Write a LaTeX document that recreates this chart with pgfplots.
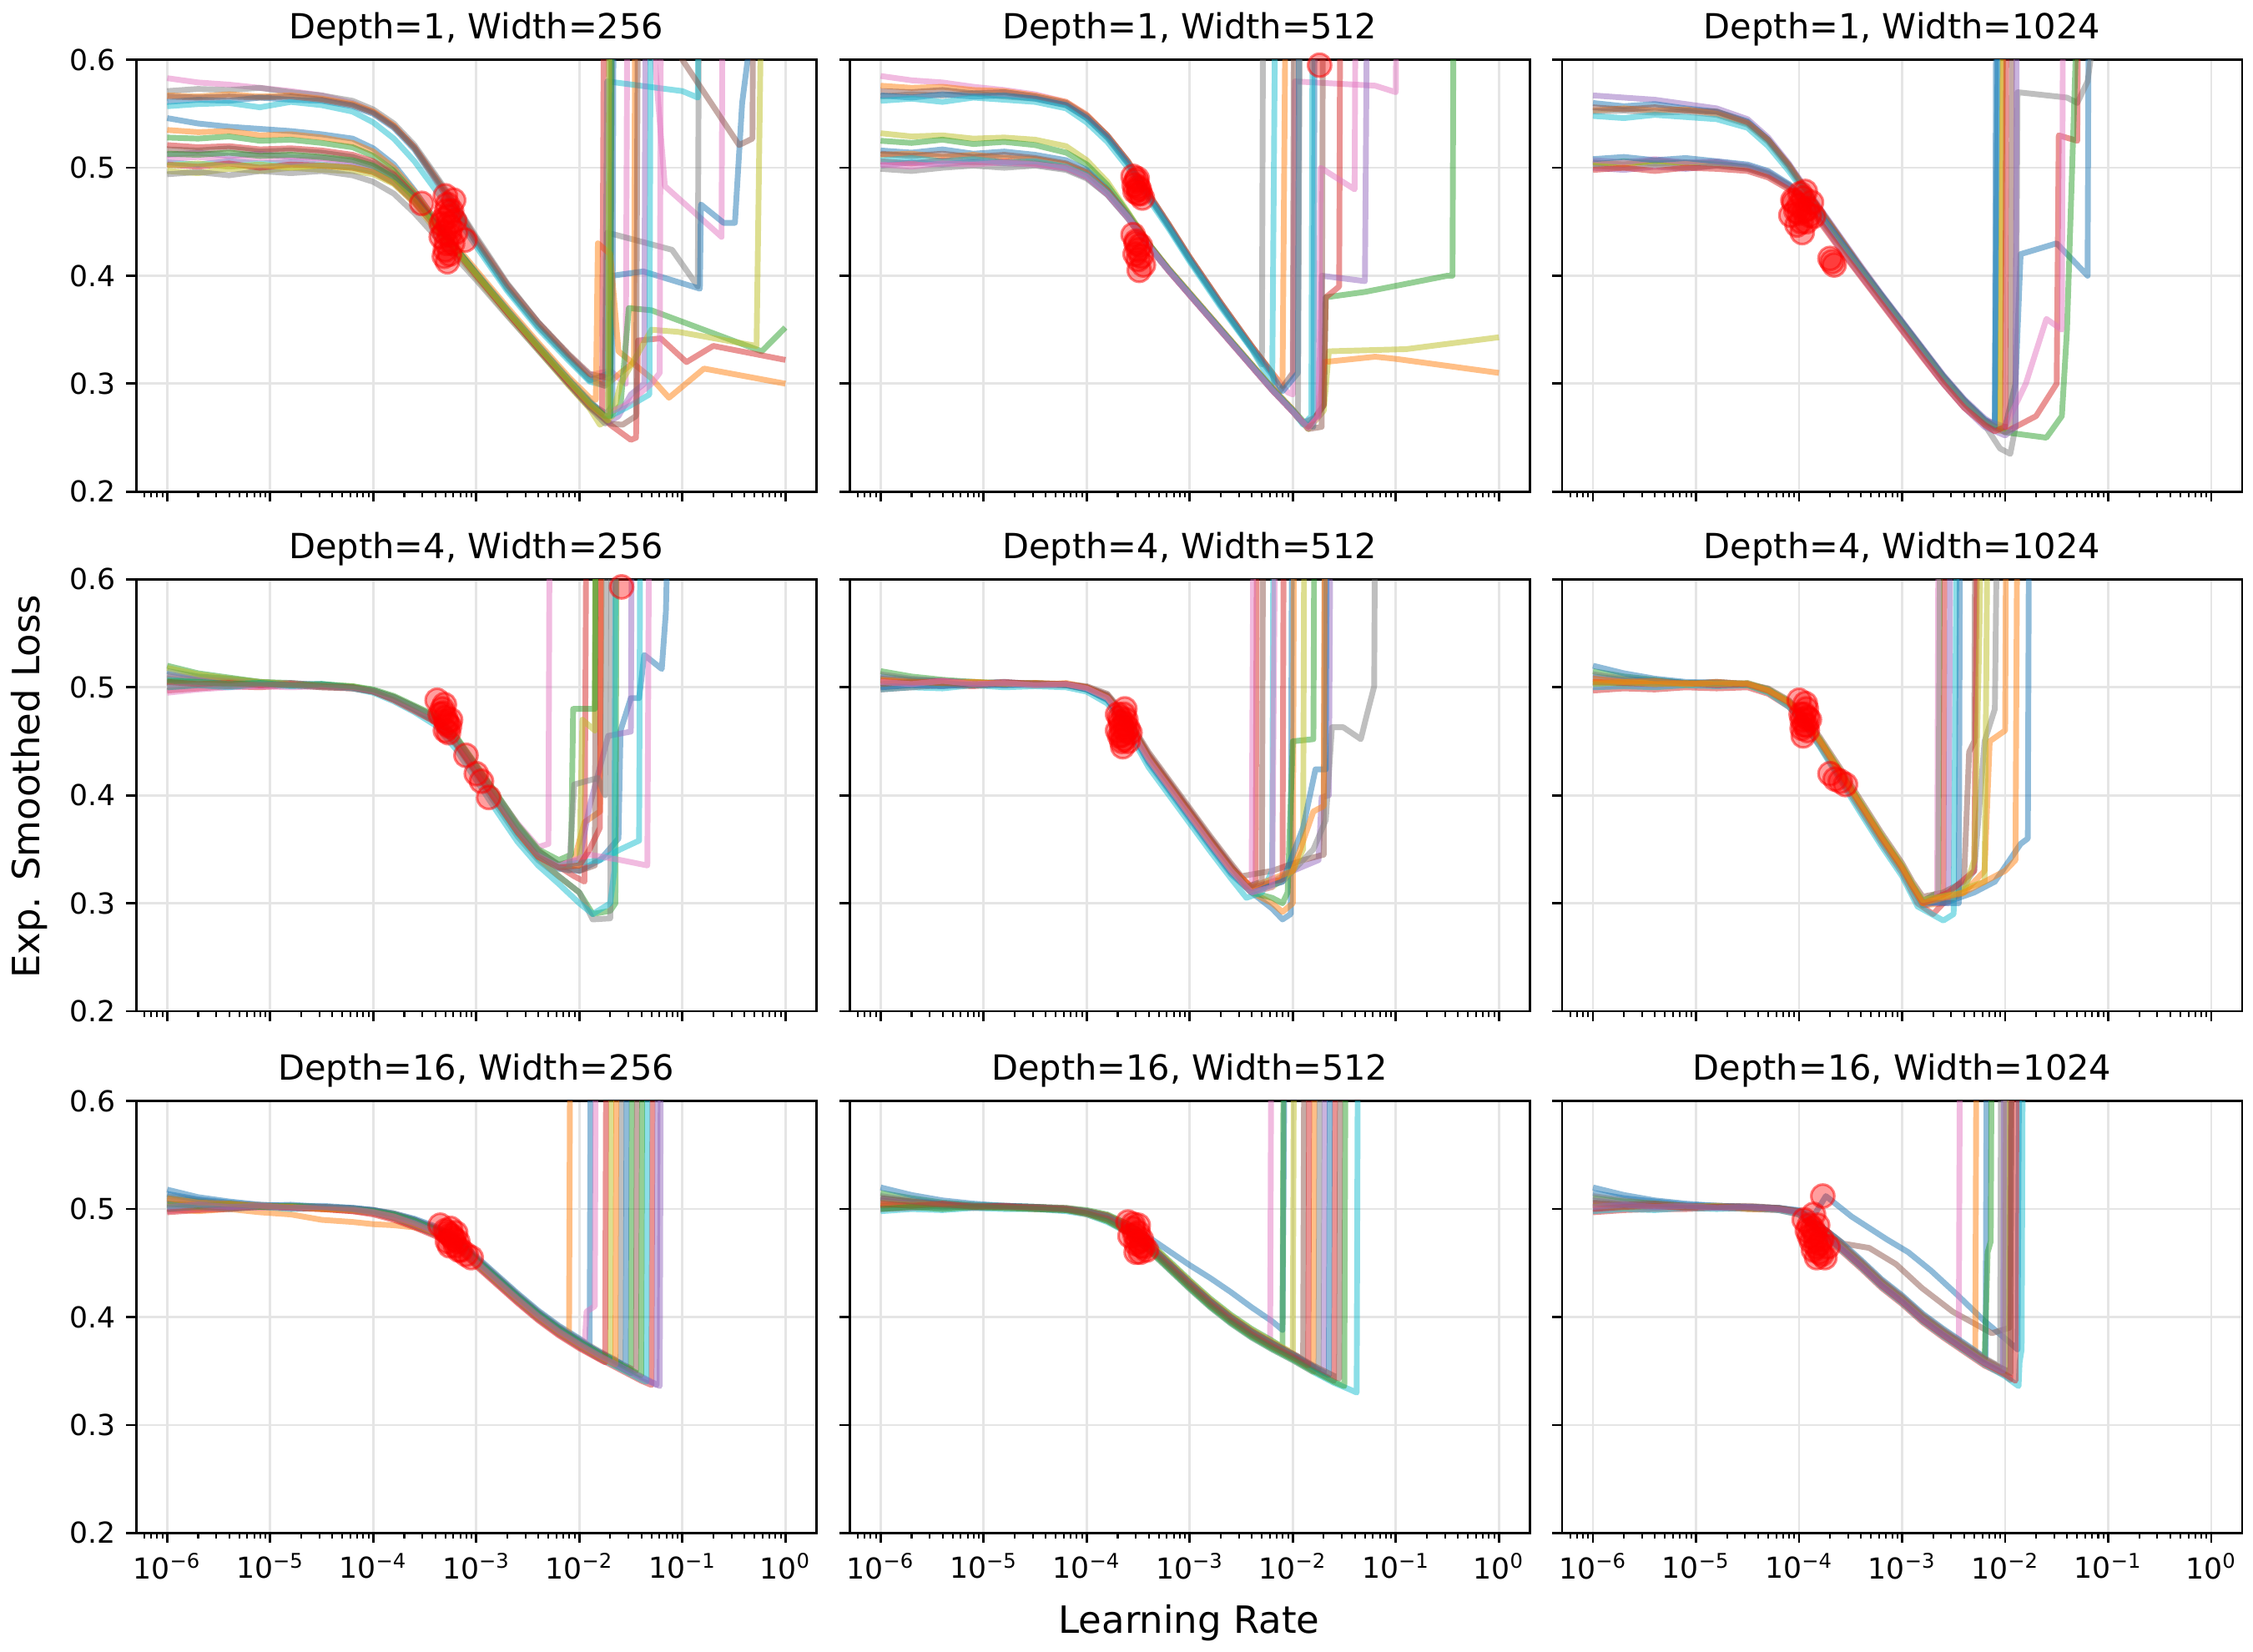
\documentclass[border=0pt]{standalone}
\usepackage{fontspec}
\setmainfont{DejaVu Sans}
\usepackage{pgfplots}
\pgfplotsset{compat=1.18}
\definecolor{c0}{HTML}{1F77B4}
\definecolor{c1}{HTML}{FF7F0E}
\definecolor{c2}{HTML}{2CA02C}
\definecolor{c3}{HTML}{D62728}
\definecolor{c4}{HTML}{9467BD}
\definecolor{c5}{HTML}{8C564B}
\definecolor{c6}{HTML}{E377C2}
\definecolor{c7}{HTML}{7F7F7F}
\definecolor{c8}{HTML}{BCBD22}
\definecolor{c9}{HTML}{17BECF}
\pgfplotsset{
 every axis title/.style={at={(0.5,1)}, anchor=base, yshift=7.2pt, font=\fontsize{12}{14}\selectfont},
 panel/.style={
  width=3.26in, height=2.0704in, scale only axis, anchor=south west,
  xmin=-6.3, xmax=0.3, ymin=0.2, ymax=0.6,
  xtick={-6,-5,-4,-3,-2,-1,0},
  minor xtick={-6.222,-6.155,-6.097,-6.046,-5.699,-5.523,-5.398,-5.301,-5.222,-5.155,-5.097,-5.046,-4.699,-4.523,-4.398,-4.301,-4.222,-4.155,-4.097,-4.046,-3.699,-3.523,-3.398,-3.301,-3.222,-3.155,-3.097,-3.046,-2.699,-2.523,-2.398,-2.301,-2.222,-2.155,-2.097,-2.046,-1.699,-1.523,-1.398,-1.301,-1.222,-1.155,-1.097,-1.046,-0.699,-0.523,-0.398,-0.301,-0.222,-0.155,-0.097,-0.046},
  ytick={0.2,0.3,0.4,0.5,0.6},
  xticklabels={}, yticklabels={},
  tick pos=left, tick align=outside,
  major tick length=3.5pt, minor tick length=2pt,
  major tick style={line width=0.8pt, black},
  minor tick style={line width=0.6pt, black},
  grid=major, major grid style={line width=0.8pt, black!10},
  axis line style={line width=0.8pt},
  tick label style={font=\fontsize{10}{12}\selectfont},
  every axis plot/.append style={line width=2pt, opacity=0.5, line join=round, no marks},
 },
 xl/.style={xticklabels={10\textsuperscript{−6},10\textsuperscript{−5},10\textsuperscript{−4},10\textsuperscript{−3},10\textsuperscript{−2},10\textsuperscript{−1},10\textsuperscript{0}}},
 yl/.style={yticklabels={0.2,0.3,0.4,0.5,0.6}},
 rm/.style={only marks, mark=*, mark size=4pt, opacity=1, red, mark options={draw=red, fill=red, fill opacity=0.38, draw opacity=0.5, line width=0.9pt}},
}
\begin{document}
\begin{tikzpicture}
\path[use as bounding box] (0,0) rectangle (10.8in,7.92in);
% ---------------- Row 1, Col 1 ----------------
\begin{axis}[panel, yl, at={(0.6532in,5.5628in)}, title={Depth=1, Width=256}]
\addplot[c6] coordinates {(-6,.583)(-5.7,.579)(-5.4,.577)(-5.1,.574)(-4.8,.571)(-4.5,.567)(-4.2,.560)(-4.0,.552)(-3.8,.539)(-3.6,.519)(-3.4,.491)(-3.2,.464)(-3.0,.433)(-2.7,.391)(-2.4,.356)(-2.1,.326)(-1.9,.308)(-1.7,.312)(-1.55,.30)(-1.53,.75)(-1.3,.64)(-1.17,.483)(-0.62,.436)(-0.6,.9)};
\addplot[c7] coordinates {(-6,.571)(-5.7,.573)(-5.4,.572)(-5.1,.574)(-4.8,.570)(-4.5,.567)(-4.2,.562)(-4.0,.554)(-3.8,.541)(-3.6,.521)(-3.4,.494)(-3.2,.466)(-3.0,.436)(-2.7,.393)(-2.4,.357)(-2.1,.326)(-1.9,.307)(-1.75,.300)(-1.73,.44)(-1.1,.424)(-0.85,.39)(-0.83,.9)};
\addplot[c1] coordinates {(-6,.567)(-5.7,.566)(-5.4,.568)(-5.1,.566)(-4.8,.567)(-4.5,.564)(-4.2,.559)(-4.0,.552)(-3.8,.539)(-3.6,.518)(-3.4,.490)(-3.2,.462)(-3.0,.431)(-2.7,.389)(-2.4,.354)(-2.1,.324)(-1.9,.304)(-1.75,.298)(-1.6,.31)(-1.47,.32)(-1.45,.9)};
\addplot[c0] coordinates {(-6,.561)(-5.7,.563)(-5.4,.562)(-5.1,.565)(-4.8,.563)(-4.5,.562)(-4.2,.557)(-4.0,.550)(-3.8,.537)(-3.6,.517)(-3.4,.489)(-3.2,.461)(-3.0,.430)(-2.7,.388)(-2.4,.353)(-2.1,.323)(-1.9,.303)(-1.7,.31)(-1.68,.40)(-1.38,.404)(-0.83,.388)(-0.82,.466)(-0.6,.449)(-0.49,.449)(-0.42,.56)(-0.3,.65)};
\addplot[c9] coordinates {(-6,.557)(-5.7,.559)(-5.4,.560)(-5.1,.556)(-4.8,.561)(-4.5,.558)(-4.2,.552)(-4.0,.542)(-3.8,.527)(-3.6,.506)(-3.4,.480)(-3.2,.455)(-3.0,.427)(-2.7,.386)(-2.4,.351)(-2.1,.321)(-1.9,.302)(-1.75,.298)(-1.73,.58)(-1.0,.571)(-0.85,.565)(-0.83,.9)};
\addplot[c5] coordinates {(-6,.566)(-5.7,.565)(-5.4,.566)(-5.1,.565)(-4.8,.566)(-4.5,.563)(-4.2,.558)(-4.0,.551)(-3.8,.538)(-3.6,.519)(-3.4,.492)(-3.2,.465)(-3.0,.434)(-2.7,.392)(-2.4,.357)(-2.1,.327)(-1.9,.309)(-1.7,.305)(-1.68,.7)(-1.2,.66)(-1.0,.6)(-0.45,.521)(-0.32,.527)(-0.3,.9)};
\addplot[c0] coordinates {(-6,.546)(-5.7,.541)(-5.4,.538)(-5.1,.536)(-4.8,.534)(-4.5,.531)(-4.2,.527)(-4.0,.518)(-3.8,.503)(-3.6,.479)(-3.4,.452)(-3.2,.426)(-3.0,.403)(-2.7,.369)(-2.4,.336)(-2.1,.304)(-1.9,.284)(-1.75,.27)(-1.68,.28)(-1.66,.9)};
\addplot[c1] coordinates {(-6,.535)(-5.7,.533)(-5.4,.534)(-5.1,.530)(-4.8,.531)(-4.5,.528)(-4.2,.523)(-4.0,.515)(-3.8,.500)(-3.6,.478)(-3.4,.452)(-3.2,.428)(-3.0,.405)(-2.7,.371)(-2.4,.338)(-2.1,.306)(-1.9,.287)(-1.84,.285)(-1.82,.43)(-1.7,.42)(-1.62,.33)(-1.3,.305)(-1.13,.287)(-0.79,.314)(0,.30)};
\addplot[c2] coordinates {(-6,.528)(-5.7,.527)(-5.4,.529)(-5.1,.525)(-4.8,.526)(-4.5,.523)(-4.2,.519)(-4.0,.511)(-3.8,.497)(-3.6,.476)(-3.4,.450)(-3.2,.426)(-3.0,.402)(-2.7,.367)(-2.4,.333)(-2.1,.301)(-1.9,.280)(-1.75,.267)(-1.6,.28)(-1.52,.37)(-1.3,.368)(-0.23,.33)(0,.352)};
\addplot[c3] coordinates {(-6,.521)(-5.7,.519)(-5.4,.52)(-5.1,.517)(-4.8,.518)(-4.5,.516)(-4.2,.512)(-4.0,.506)(-3.8,.494)(-3.6,.474)(-3.4,.449)(-3.2,.425)(-3.0,.401)(-2.7,.366)(-2.4,.332)(-2.1,.299)(-1.9,.278)(-1.7,.262)(-1.5,.248)(-1.45,.25)(-1.43,.34)(-1.21,.342)(-0.96,.32)(-0.7,.335)(0,.322)};
\addplot[c4] coordinates {(-6,.512)(-5.7,.514)(-5.4,.511)(-5.1,.513)(-4.8,.510)(-4.5,.509)(-4.2,.506)(-4.0,.501)(-3.8,.491)(-3.6,.472)(-3.4,.447)(-3.2,.424)(-3.0,.40)(-2.7,.366)(-2.4,.333)(-2.1,.301)(-1.9,.281)(-1.72,.264)(-1.62,.27)(-1.5,.29)(-1.37,.30)(-1.35,.9)};
\addplot[c8] coordinates {(-6,.497)(-5.7,.495)(-5.4,.499)(-5.1,.497)(-4.8,.50)(-4.5,.498)(-4.2,.497)(-4.0,.494)(-3.8,.485)(-3.6,.467)(-3.4,.443)(-3.2,.421)(-3.0,.398)(-2.7,.364)(-2.4,.331)(-2.1,.298)(-1.9,.277)(-1.8,.262)(-1.68,.27)(-1.6,.30)(-1.3,.35)(-1.04,.348)(-0.28,.335)(-0.2,.9)};
\addplot[c7] coordinates {(-6,.494)(-5.7,.496)(-5.4,.493)(-5.1,.497)(-4.8,.495)(-4.5,.497)(-4.2,.493)(-4.0,.487)(-3.8,.476)(-3.6,.458)(-3.4,.437)(-3.2,.417)(-3.0,.396)(-2.7,.363)(-2.4,.331)(-2.1,.299)(-1.9,.278)(-1.75,.263)(-1.72,.27)(-1.70,.9)};
\addplot[c9] coordinates {(-6,.505)(-5.7,.503)(-5.4,.506)(-5.1,.504)(-4.8,.505)(-4.5,.503)(-4.2,.501)(-4.0,.497)(-3.8,.487)(-3.6,.469)(-3.4,.446)(-3.2,.424)(-3.0,.401)(-2.7,.367)(-2.4,.334)(-2.1,.302)(-1.9,.282)(-1.7,.27)(-1.5,.28)(-1.32,.29)(-1.3,.9)};
\addplot[c6] coordinates {(-6,.508)(-5.7,.510)(-5.4,.507)(-5.1,.509)(-4.8,.507)(-4.5,.508)(-4.2,.504)(-4.0,.499)(-3.8,.489)(-3.6,.471)(-3.4,.447)(-3.2,.425)(-3.0,.402)(-2.7,.368)(-2.4,.335)(-2.1,.303)(-1.9,.283)(-1.75,.272)(-1.55,.28)(-1.3,.30)(-1.22,.31)(-1.2,.9)};
\addplot[c5] coordinates {(-6,.517)(-5.7,.516)(-5.4,.518)(-5.1,.515)(-4.8,.516)(-4.5,.514)(-4.2,.510)(-4.0,.504)(-3.8,.493)(-3.6,.473)(-3.4,.448)(-3.2,.425)(-3.0,.401)(-2.7,.366)(-2.4,.333)(-2.1,.30)(-1.9,.279)(-1.7,.263)(-1.58,.262)(-1.45,.27)(-1.42,.9)};
\addplot[c3] coordinates {(-6,.503)(-5.7,.501)(-5.4,.504)(-5.1,.50)(-4.8,.503)(-4.5,.502)(-4.2,.50)(-4.0,.496)(-3.8,.486)(-3.6,.468)(-3.4,.445)(-3.2,.423)(-3.0,.40)(-2.7,.366)(-2.4,.333)(-2.1,.301)(-1.9,.281)(-1.78,.272)(-1.75,.9)};
\addplot[c2] coordinates {(-6,.513)(-5.7,.512)(-5.4,.514)(-5.1,.511)(-4.8,.512)(-4.5,.51)(-4.2,.507)(-4.0,.502)(-3.8,.491)(-3.6,.472)(-3.4,.448)(-3.2,.425)(-3.0,.402)(-2.7,.368)(-2.4,.335)(-2.1,.303)(-1.9,.283)(-1.75,.27)(-1.7,.27)(-1.68,.9)};
\addplot[c8] coordinates {(-6,.502)(-5.7,.504)(-5.4,.501)(-5.1,.503)(-4.8,.50)(-4.5,.502)(-4.2,.50)(-4.0,.496)(-3.8,.486)(-3.6,.469)(-3.4,.446)(-3.2,.424)(-3.0,.401)(-2.7,.367)(-2.4,.334)(-2.1,.302)(-1.9,.281)(-1.72,.266)(-1.70,.9)};
\addplot[rm] coordinates {(-3.53,.467)(-3.30,.474)(-3.28,.466)(-3.21,.451)(-3.34,.448)(-3.34,.436)(-3.30,.424)(-3.11,.433)(-3.28,.413)(-3.23,.43)(-3.25,.445)(-3.31,.44)(-3.27,.455)(-3.22,.47)(-3.26,.42)(-3.29,.46)(-3.32,.452)(-3.26,.438)(-3.29,.43)(-3.24,.46)(-3.31,.418)(-3.27,.448)(-3.2,.44)};
\end{axis}
% ---------------- Row 1, Col 2 ----------------
\begin{axis}[panel, at={(4.0732in,5.5628in)}, title={Depth=1, Width=512}]
\addplot[c6] coordinates {(-6,.585)(-5.7,.581)(-5.4,.579)(-5.1,.575)(-4.8,.572)(-4.5,.568)(-4.2,.561)(-4.0,.549)(-3.8,.530)(-3.6,.506)(-3.4,.476)(-3.2,.447)(-3.0,.417)(-2.7,.375)(-2.4,.335)(-2.2,.31)(-2.05,.292)(-2.0,.29)(-1.98,.58)(-1.2,.576)(-1.0,.57)(-0.98,.9)};
\addplot[c1] coordinates {(-6,.576)(-5.7,.574)(-5.4,.575)(-5.1,.572)(-4.8,.571)(-4.5,.567)(-4.2,.561)(-4.0,.549)(-3.8,.53)(-3.6,.506)(-3.4,.476)(-3.2,.447)(-3.0,.417)(-2.7,.375)(-2.4,.335)(-2.2,.31)(-2.1,.298)(-2.05,.9)};
\addplot[c7] coordinates {(-6,.566)(-5.7,.568)(-5.4,.567)(-5.1,.569)(-4.8,.566)(-4.5,.564)(-4.2,.558)(-4.0,.546)(-3.8,.528)(-3.6,.504)(-3.4,.474)(-3.2,.445)(-3.0,.415)(-2.7,.373)(-2.4,.333)(-2.3,.318)(-2.28,.9)};
\addplot[c5] coordinates {(-6,.571)(-5.7,.57)(-5.4,.572)(-5.1,.569)(-4.8,.57)(-4.5,.566)(-4.2,.56)(-4.0,.548)(-3.8,.53)(-3.6,.506)(-3.4,.476)(-3.2,.447)(-3.0,.417)(-2.7,.375)(-2.4,.335)(-2.2,.31)(-2.15,.29)(-2.0,.31)(-1.98,.9)};
\addplot[c0] coordinates {(-6,.567)(-5.7,.565)(-5.4,.568)(-5.1,.566)(-4.8,.567)(-4.5,.564)(-4.2,.558)(-4.0,.546)(-3.8,.528)(-3.6,.504)(-3.4,.474)(-3.2,.445)(-3.0,.415)(-2.7,.373)(-2.4,.333)(-2.2,.308)(-2.1,.293)(-1.95,.31)(-1.93,.9)};
\addplot[c9] coordinates {(-6,.562)(-5.7,.564)(-5.4,.561)(-5.1,.565)(-4.8,.563)(-4.5,.561)(-4.2,.555)(-4.0,.542)(-3.8,.524)(-3.6,.50)(-3.4,.471)(-3.2,.443)(-3.0,.413)(-2.7,.371)(-2.4,.332)(-2.2,.30)(-2.15,.9)};
\addplot[c8] coordinates {(-6,.532)(-5.7,.529)(-5.4,.530)(-5.1,.527)(-4.8,.528)(-4.5,.526)(-4.2,.52)(-4.0,.507)(-3.8,.487)(-3.6,.459)(-3.4,.43)(-3.2,.405)(-3.0,.383)(-2.7,.35)(-2.4,.317)(-2.2,.295)(-2.0,.275)(-1.85,.258)(-1.7,.275)(-1.65,.33)(-0.9,.332)(0,.343)};
\addplot[c2] coordinates {(-6,.525)(-5.7,.523)(-5.4,.526)(-5.1,.522)(-4.8,.524)(-4.5,.521)(-4.2,.514)(-4.0,.503)(-3.8,.484)(-3.6,.458)(-3.4,.43)(-3.2,.406)(-3.0,.384)(-2.7,.351)(-2.4,.318)(-2.2,.296)(-2.0,.276)(-1.85,.26)(-1.7,.28)(-1.68,.38)(-1.3,.385)(-0.5,.40)(-0.45,.40)(-0.43,.9)};
\addplot[c0] coordinates {(-6,.516)(-5.7,.514)(-5.4,.517)(-5.1,.513)(-4.8,.515)(-4.5,.512)(-4.2,.507)(-4.0,.498)(-3.8,.48)(-3.6,.456)(-3.4,.429)(-3.2,.405)(-3.0,.383)(-2.7,.35)(-2.4,.317)(-2.2,.295)(-2.0,.275)(-1.9,.264)(-1.8,.26)(-1.78,.9)};
\addplot[c1] coordinates {(-6,.512)(-5.7,.513)(-5.4,.51)(-5.1,.512)(-4.8,.509)(-4.5,.508)(-4.2,.503)(-4.0,.495)(-3.8,.479)(-3.6,.456)(-3.4,.429)(-3.2,.406)(-3.0,.384)(-2.7,.351)(-2.4,.318)(-2.2,.296)(-2.0,.276)(-1.9,.263)(-1.75,.27)(-1.7,.32)(-1.2,.325)(-1.0,.323)(0,.31)};
\addplot[c3] coordinates {(-6,.506)(-5.7,.504)(-5.4,.507)(-5.1,.505)(-4.8,.506)(-4.5,.504)(-4.2,.50)(-4.0,.492)(-3.8,.476)(-3.6,.454)(-3.4,.428)(-3.2,.404)(-3.0,.382)(-2.7,.349)(-2.4,.316)(-2.2,.294)(-2.0,.274)(-1.95,.268)(-1.85,.26)(-1.7,.28)(-1.68,.38)(-1.55,.39)(-1.53,.9)};
\addplot[c4] coordinates {(-6,.502)(-5.7,.505)(-5.4,.503)(-5.1,.506)(-4.8,.504)(-4.5,.503)(-4.2,.499)(-4.0,.491)(-3.8,.475)(-3.6,.453)(-3.4,.427)(-3.2,.404)(-3.0,.382)(-2.7,.349)(-2.4,.316)(-2.2,.294)(-2.0,.274)(-1.9,.264)(-1.75,.27)(-1.72,.40)(-1.3,.395)(-1.26,.9)};
\addplot[c7] coordinates {(-6,.499)(-5.7,.497)(-5.4,.50)(-5.1,.502)(-4.8,.50)(-4.5,.502)(-4.2,.498)(-4.0,.49)(-3.8,.475)(-3.6,.453)(-3.4,.427)(-3.2,.404)(-3.0,.382)(-2.7,.349)(-2.4,.316)(-2.2,.294)(-2.0,.274)(-1.95,.27)(-1.92,.9)};
\addplot[c5] coordinates {(-6,.513)(-5.7,.511)(-5.4,.513)(-5.1,.51)(-4.8,.512)(-4.5,.509)(-4.2,.504)(-4.0,.496)(-3.8,.479)(-3.6,.456)(-3.4,.429)(-3.2,.405)(-3.0,.383)(-2.7,.35)(-2.4,.317)(-2.2,.295)(-2.0,.275)(-1.85,.258)(-1.72,.26)(-1.7,.9)};
\addplot[c9] coordinates {(-6,.507)(-5.7,.509)(-5.4,.506)(-5.1,.508)(-4.8,.505)(-4.5,.506)(-4.2,.501)(-4.0,.493)(-3.8,.477)(-3.6,.455)(-3.4,.428)(-3.2,.405)(-3.0,.383)(-2.7,.35)(-2.4,.317)(-2.2,.295)(-2.0,.275)(-1.9,.262)(-1.82,.27)(-1.8,.9)};
\addplot[c6] coordinates {(-6,.503)(-5.7,.501)(-5.4,.504)(-5.1,.503)(-4.8,.505)(-4.5,.503)(-4.2,.50)(-4.0,.492)(-3.8,.476)(-3.6,.454)(-3.4,.428)(-3.2,.404)(-3.0,.382)(-2.7,.349)(-2.4,.316)(-2.2,.294)(-2.0,.274)(-1.85,.259)(-1.75,.27)(-1.73,.50)(-1.4,.48)(-1.38,.9)};
\addplot[rm] coordinates {(-3.55,.492)(-3.52,.488)(-3.5,.482)(-3.48,.476)(-3.46,.472)(-3.53,.478)(-3.55,.438)(-3.52,.43)(-3.5,.424)(-3.47,.418)(-3.45,.41)(-3.49,.405)(-1.74,.595)(-3.51,.49)(-3.49,.48)(-3.54,.484)(-3.5,.476)(-3.52,.432)(-3.5,.415)(-3.48,.428)(-3.53,.42)};
\end{axis}
% ---------------- Row 1, Col 3 ----------------
\begin{axis}[panel, at={(7.488in,5.5628in)}, title={Depth=1, Width=1024}]
\addplot[c4] coordinates {(-6,.567)(-5.7,.565)(-5.4,.563)(-5.1,.559)(-4.8,.555)(-4.5,.545)(-4.3,.528)(-4.1,.504)(-4.0,.49)(-3.8,.463)(-3.6,.436)(-3.4,.409)(-3.2,.383)(-3.0,.358)(-2.8,.333)(-2.6,.308)(-2.4,.286)(-2.2,.268)(-2.1,.262)(-2.05,.9)};
\addplot[c0] coordinates {(-6,.56)(-5.7,.557)(-5.4,.559)(-5.1,.555)(-4.8,.552)(-4.5,.543)(-4.3,.526)(-4.1,.502)(-4.0,.488)(-3.8,.461)(-3.6,.434)(-3.4,.407)(-3.2,.381)(-3.0,.356)(-2.8,.331)(-2.6,.306)(-2.4,.284)(-2.2,.266)(-2.0,.26)(-1.9,.30)(-1.85,.42)(-1.5,.43)(-1.2,.40)(-1.18,.9)};
\addplot[c1] coordinates {(-6,.553)(-5.7,.555)(-5.4,.553)(-5.1,.554)(-4.8,.55)(-4.5,.541)(-4.3,.525)(-4.1,.502)(-4.0,.488)(-3.8,.461)(-3.6,.434)(-3.4,.407)(-3.2,.381)(-3.0,.356)(-2.8,.331)(-2.6,.306)(-2.4,.284)(-2.2,.266)(-2.05,.258)(-2.0,.9)};
\addplot[c7] coordinates {(-6,.552)(-5.7,.553)(-5.4,.551)(-5.1,.552)(-4.8,.549)(-4.5,.54)(-4.3,.524)(-4.1,.50)(-4.0,.486)(-3.8,.46)(-3.6,.433)(-3.4,.406)(-3.2,.38)(-3.0,.355)(-2.8,.33)(-2.6,.305)(-2.4,.282)(-2.2,.262)(-2.05,.24)(-1.95,.235)(-1.9,.26)(-1.88,.57)(-1.4,.565)(-1.3,.56)(-1.2,.58)(-1.1,.65)};
\addplot[c9] coordinates {(-6,.548)(-5.7,.546)(-5.4,.549)(-5.1,.547)(-4.8,.545)(-4.5,.537)(-4.3,.52)(-4.1,.497)(-4.0,.484)(-3.8,.458)(-3.6,.431)(-3.4,.405)(-3.2,.379)(-3.0,.354)(-2.8,.329)(-2.6,.304)(-2.4,.282)(-2.2,.264)(-2.1,.258)(-2.05,.9)};
\addplot[c5] coordinates {(-6,.556)(-5.7,.554)(-5.4,.556)(-5.1,.553)(-4.8,.552)(-4.5,.542)(-4.3,.526)(-4.1,.503)(-4.0,.489)(-3.8,.462)(-3.6,.435)(-3.4,.408)(-3.2,.382)(-3.0,.357)(-2.8,.332)(-2.6,.307)(-2.4,.285)(-2.2,.266)(-2.1,.26)(-1.95,.26)(-1.92,.9)};
\addplot[c3] coordinates {(-6,.505)(-5.7,.503)(-5.4,.507)(-5.1,.504)(-4.8,.505)(-4.5,.50)(-4.3,.494)(-4.1,.483)(-4.0,.475)(-3.8,.455)(-3.6,.43)(-3.4,.405)(-3.2,.38)(-3.0,.355)(-2.8,.33)(-2.6,.305)(-2.4,.283)(-2.2,.265)(-2.0,.255)(-1.7,.27)(-1.5,.30)(-1.48,.53)(-1.3,.525)(-1.28,.9)};
\addplot[c2] coordinates {(-6,.503)(-5.7,.506)(-5.4,.504)(-5.1,.505)(-4.8,.503)(-4.5,.501)(-4.3,.495)(-4.1,.484)(-4.0,.476)(-3.8,.456)(-3.6,.431)(-3.4,.406)(-3.2,.381)(-3.0,.356)(-2.8,.331)(-2.6,.306)(-2.4,.284)(-2.2,.266)(-2.0,.255)(-1.6,.25)(-1.45,.27)(-1.4,.35)(-1.35,.50)(-1.3,.65)};
\addplot[c6] coordinates {(-6,.507)(-5.7,.505)(-5.4,.508)(-5.1,.505)(-4.8,.506)(-4.5,.502)(-4.3,.496)(-4.1,.484)(-4.0,.476)(-3.8,.456)(-3.6,.431)(-3.4,.406)(-3.2,.381)(-3.0,.356)(-2.8,.331)(-2.6,.306)(-2.4,.284)(-2.2,.266)(-2.0,.26)(-1.8,.30)(-1.6,.36)(-1.45,.35)(-1.43,.9)};
\addplot[c8] coordinates {(-6,.502)(-5.7,.50)(-5.4,.503)(-5.1,.50)(-4.8,.502)(-4.5,.499)(-4.3,.493)(-4.1,.482)(-4.0,.474)(-3.8,.454)(-3.6,.429)(-3.4,.404)(-3.2,.379)(-3.0,.354)(-2.8,.329)(-2.6,.304)(-2.4,.282)(-2.2,.264)(-2.05,.256)(-2.0,.9)};
\addplot[c0] coordinates {(-6,.508)(-5.7,.51)(-5.4,.507)(-5.1,.509)(-4.8,.506)(-4.5,.503)(-4.3,.497)(-4.1,.485)(-4.0,.477)(-3.8,.457)(-3.6,.432)(-3.4,.407)(-3.2,.382)(-3.0,.357)(-2.8,.332)(-2.6,.307)(-2.4,.285)(-2.2,.267)(-2.1,.26)(-2.08,.9)};
\addplot[c4] coordinates {(-6,.50)(-5.7,.498)(-5.4,.501)(-5.1,.499)(-4.8,.502)(-4.5,.499)(-4.3,.493)(-4.1,.482)(-4.0,.474)(-3.8,.452)(-3.6,.425)(-3.4,.40)(-3.2,.375)(-3.0,.35)(-2.8,.325)(-2.6,.30)(-2.4,.278)(-2.2,.26)(-2.0,.252)(-1.9,.26)(-1.88,.9)};
\addplot[c3] coordinates {(-6,.498)(-5.7,.50)(-5.4,.497)(-5.1,.50)(-4.8,.499)(-4.5,.497)(-4.3,.491)(-4.1,.48)(-4.0,.472)(-3.8,.45)(-3.6,.424)(-3.4,.399)(-3.2,.374)(-3.0,.349)(-2.8,.324)(-2.6,.30)(-2.4,.278)(-2.2,.262)(-2.1,.256)(-2.0,.26)(-1.98,.9)};
\addplot[rm] coordinates {(-4.05,.468)(-4.0,.458)(-3.96,.472)(-3.92,.462)(-4.02,.447)(-3.93,.45)(-3.88,.468)(-3.97,.44)(-4.08,.456)(-3.86,.455)(-3.99,.476)(-3.7,.416)(-3.66,.41)(-4.0,.465)(-3.95,.46)(-4.03,.46)(-3.9,.456)(-3.98,.45)(-4.06,.47)(-3.94,.478)(-3.68,.413)};
\end{axis}
% ---------------- Row 2, Col 1 ----------------
\begin{axis}[panel, yl, at={(0.6532in,3.072in)}, title={Depth=4, Width=256}]
\addplot[c0] coordinates {(-6,.515)(-5.7,.51)(-5.4,.508)(-5.1,.505)(-4.8,.503)(-4.5,.503)(-4.2,.50)(-4.0,.497)(-3.8,.49)(-3.6,.481)(-3.4,.471)(-3.2,.451)(-3.0,.424)(-2.8,.397)(-2.6,.37)(-2.4,.347)(-2.2,.332)(-2.0,.33)(-1.8,.34)(-1.62,.36)(-1.6,.46)(-1.5,.49)(-1.42,.49)(-1.37,.53)(-1.2,.517)(-1.16,.57)(-1.14,.65)};
\addplot[c1] coordinates {(-6,.508)(-5.7,.506)(-5.4,.505)(-5.1,.503)(-4.8,.504)(-4.5,.501)(-4.2,.499)(-4.0,.496)(-3.8,.489)(-3.6,.48)(-3.4,.47)(-3.2,.45)(-3.0,.423)(-2.8,.396)(-2.6,.369)(-2.4,.346)(-2.2,.335)(-2.05,.34)(-1.95,.375)(-1.8,.385)(-1.76,.9)};
\addplot[c2] coordinates {(-6,.52)(-5.7,.513)(-5.4,.509)(-5.1,.505)(-4.8,.504)(-4.5,.502)(-4.2,.50)(-4.0,.497)(-3.8,.49)(-3.6,.48)(-3.4,.469)(-3.2,.449)(-3.0,.421)(-2.8,.393)(-2.6,.365)(-2.4,.342)(-2.2,.325)(-2.0,.31)(-1.87,.29)(-1.7,.293)(-1.65,.30)(-1.63,.9)};
\addplot[c3] coordinates {(-6,.497)(-5.7,.499)(-5.4,.501)(-5.1,.50)(-4.8,.502)(-4.5,.50)(-4.2,.499)(-4.0,.496)(-3.8,.489)(-3.6,.48)(-3.4,.47)(-3.2,.45)(-3.0,.424)(-2.8,.397)(-2.6,.37)(-2.4,.347)(-2.2,.334)(-2.05,.325)(-1.95,.32)(-1.92,.9)};
\addplot[c4] coordinates {(-6,.51)(-5.7,.507)(-5.4,.506)(-5.1,.503)(-4.8,.504)(-4.5,.502)(-4.2,.50)(-4.0,.497)(-3.8,.491)(-3.6,.482)(-3.4,.472)(-3.2,.452)(-3.0,.425)(-2.8,.398)(-2.6,.371)(-2.4,.348)(-2.2,.336)(-2.0,.34)(-1.9,.39)(-1.72,.455)(-1.5,.459)(-1.48,.9)};
\addplot[c5] coordinates {(-6,.505)(-5.7,.503)(-5.4,.505)(-5.1,.502)(-4.8,.503)(-4.5,.501)(-4.2,.50)(-4.0,.497)(-3.8,.491)(-3.6,.482)(-3.4,.473)(-3.2,.454)(-3.0,.427)(-2.8,.40)(-2.6,.372)(-2.4,.349)(-2.2,.335)(-2.0,.33)(-1.85,.335)(-1.83,.9)};
\addplot[c6] coordinates {(-6,.495)(-5.7,.498)(-5.4,.50)(-5.1,.501)(-4.8,.50)(-4.5,.501)(-4.2,.499)(-4.0,.496)(-3.8,.49)(-3.6,.481)(-3.4,.472)(-3.2,.453)(-3.0,.426)(-2.8,.40)(-2.6,.374)(-2.4,.352)(-2.3,.355)(-2.28,.9)};
\addplot[c7] coordinates {(-6,.512)(-5.7,.508)(-5.4,.506)(-5.1,.504)(-4.8,.503)(-4.5,.502)(-4.2,.50)(-4.0,.496)(-3.8,.489)(-3.6,.479)(-3.4,.468)(-3.2,.447)(-3.0,.419)(-2.8,.39)(-2.6,.362)(-2.4,.34)(-2.2,.325)(-2.0,.31)(-1.87,.285)(-1.7,.286)(-1.68,.9)};
\addplot[c8] coordinates {(-6,.518)(-5.7,.512)(-5.4,.508)(-5.1,.505)(-4.8,.503)(-4.5,.502)(-4.2,.501)(-4.0,.497)(-3.8,.49)(-3.6,.481)(-3.4,.471)(-3.2,.451)(-3.0,.424)(-2.8,.397)(-2.6,.37)(-2.4,.347)(-2.2,.335)(-2.0,.335)(-1.97,.47)(-1.85,.46)(-1.83,.9)};
\addplot[c9] coordinates {(-6,.50)(-5.7,.502)(-5.4,.50)(-5.1,.503)(-4.8,.501)(-4.5,.502)(-4.2,.499)(-4.0,.495)(-3.8,.487)(-3.6,.477)(-3.4,.465)(-3.2,.443)(-3.0,.414)(-2.8,.385)(-2.6,.357)(-2.4,.335)(-2.2,.318)(-2.0,.30)(-1.87,.29)(-1.7,.30)(-1.66,.33)(-1.64,.9)};
\addplot[c9] coordinates {(-6,.507)(-5.7,.505)(-5.4,.503)(-5.1,.504)(-4.8,.502)(-4.5,.503)(-4.2,.50)(-4.0,.497)(-3.8,.49)(-3.6,.481)(-3.4,.471)(-3.2,.451)(-3.0,.424)(-2.8,.397)(-2.6,.37)(-2.4,.347)(-2.2,.335)(-1.8,.34)(-1.6,.35)(-1.42,.358)(-1.40,.9)};
\addplot[c6] coordinates {(-6,.502)(-5.7,.504)(-5.4,.503)(-5.1,.501)(-4.8,.503)(-4.5,.502)(-4.2,.50)(-4.0,.497)(-3.8,.49)(-3.6,.481)(-3.4,.472)(-3.2,.452)(-3.0,.425)(-2.8,.398)(-2.6,.37)(-2.4,.347)(-2.2,.335)(-1.9,.345)(-1.6,.34)(-1.34,.335)(-1.31,.9)};
\addplot[c3] coordinates {(-6,.505)(-5.7,.503)(-5.4,.504)(-5.1,.502)(-4.8,.503)(-4.5,.501)(-4.2,.50)(-4.0,.496)(-3.8,.488)(-3.6,.478)(-3.4,.468)(-3.2,.448)(-3.0,.421)(-2.8,.394)(-2.6,.366)(-2.4,.343)(-2.2,.333)(-2.0,.335)(-1.9,.35)(-1.8,.37)(-1.78,.9)};
\addplot[c2] coordinates {(-6,.506)(-5.7,.505)(-5.4,.503)(-5.1,.504)(-4.8,.502)(-4.5,.503)(-4.2,.501)(-4.0,.498)(-3.8,.492)(-3.6,.483)(-3.4,.474)(-3.2,.455)(-3.0,.428)(-2.8,.401)(-2.6,.373)(-2.4,.35)(-2.2,.34)(-2.08,.345)(-2.06,.48)(-1.85,.48)(-1.83,.9)};
\addplot[c7] coordinates {(-6,.50)(-5.7,.502)(-5.4,.501)(-5.1,.503)(-4.8,.502)(-4.5,.50)(-4.2,.499)(-4.0,.496)(-3.8,.489)(-3.6,.48)(-3.4,.47)(-3.2,.45)(-3.0,.423)(-2.8,.396)(-2.6,.368)(-2.4,.345)(-2.2,.333)(-2.1,.33)(-2.05,.41)(-1.82,.416)(-1.75,.40)(-1.72,.9)};
\addplot[rm] coordinates {(-3.38,.488)(-3.33,.48)(-3.3,.472)(-3.28,.466)(-3.3,.46)(-3.25,.47)(-3.35,.475)(-3.27,.458)(-3.1,.437)(-3.0,.42)(-2.95,.413)(-2.88,.398)(-1.59,.593)(-3.32,.476)(-3.29,.468)(-3.31,.484)(-3.26,.464)};
\end{axis}
% ---------------- Row 2, Col 2 ----------------
\begin{axis}[panel, at={(4.0732in,3.072in)}, title={Depth=4, Width=512}]
\addplot[c0] coordinates {(-6,.51)(-5.7,.507)(-5.4,.506)(-5.1,.504)(-4.8,.505)(-4.5,.503)(-4.2,.503)(-4.0,.498)(-3.8,.488)(-3.6,.463)(-3.4,.43)(-3.2,.404)(-3.0,.378)(-2.8,.352)(-2.6,.327)(-2.4,.31)(-2.2,.295)(-2.1,.285)(-2.02,.29)(-2.0,.9)};
\addplot[c1] coordinates {(-6,.50)(-5.7,.502)(-5.4,.503)(-5.1,.502)(-4.8,.504)(-4.5,.502)(-4.2,.504)(-4.0,.50)(-3.8,.491)(-3.6,.467)(-3.4,.433)(-3.2,.407)(-3.0,.381)(-2.8,.355)(-2.6,.33)(-2.4,.31)(-2.2,.30)(-2.1,.292)(-2.0,.30)(-1.98,.9)};
\addplot[c2] coordinates {(-6,.515)(-5.7,.51)(-5.4,.507)(-5.1,.505)(-4.8,.503)(-4.5,.504)(-4.2,.502)(-4.0,.498)(-3.8,.489)(-3.6,.465)(-3.4,.432)(-3.2,.406)(-3.0,.38)(-2.8,.354)(-2.6,.329)(-2.4,.31)(-2.2,.305)(-2.1,.30)(-2.05,.31)(-2.0,.45)(-1.8,.452)(-1.78,.9)};
\addplot[c3] coordinates {(-6,.498)(-5.7,.50)(-5.4,.502)(-5.1,.501)(-4.8,.503)(-4.5,.502)(-4.2,.502)(-4.0,.499)(-3.8,.49)(-3.6,.467)(-3.4,.435)(-3.2,.41)(-3.0,.384)(-2.8,.358)(-2.6,.333)(-2.4,.315)(-2.36,.32)(-2.34,.9)};
\addplot[c4] coordinates {(-6,.505)(-5.7,.503)(-5.4,.505)(-5.1,.504)(-4.8,.502)(-4.5,.503)(-4.2,.503)(-4.0,.499)(-3.8,.49)(-3.6,.466)(-3.4,.433)(-3.2,.407)(-3.0,.381)(-2.8,.355)(-2.6,.33)(-2.4,.31)(-2.2,.32)(-2.0,.33)(-1.75,.34)(-1.72,.398)(-1.65,.40)(-1.62,.9)};
\addplot[c5] coordinates {(-6,.508)(-5.7,.506)(-5.4,.505)(-5.1,.503)(-4.8,.504)(-4.5,.504)(-4.2,.503)(-4.0,.501)(-3.8,.494)(-3.6,.471)(-3.4,.44)(-3.2,.414)(-3.0,.388)(-2.8,.362)(-2.6,.337)(-2.5,.325)(-2.2,.33)(-1.9,.34)(-1.7,.345)(-1.68,.9)};
\addplot[c6] coordinates {(-6,.50)(-5.7,.503)(-5.4,.501)(-5.1,.504)(-4.8,.503)(-4.5,.502)(-4.2,.503)(-4.0,.499)(-3.8,.49)(-3.6,.466)(-3.4,.433)(-3.2,.407)(-3.0,.381)(-2.8,.355)(-2.6,.33)(-2.4,.31)(-2.37,.9)};
\addplot[c7] coordinates {(-6,.512)(-5.7,.508)(-5.4,.506)(-5.1,.505)(-4.8,.503)(-4.5,.504)(-4.2,.502)(-4.0,.50)(-3.8,.492)(-3.6,.468)(-3.4,.436)(-3.2,.41)(-3.0,.384)(-2.8,.358)(-2.6,.333)(-2.4,.312)(-2.1,.32)(-1.8,.35)(-1.68,.377)(-1.62,.463)(-1.51,.463)(-1.34,.452)(-1.28,.475)(-1.21,.501)(-1.19,.9)};
\addplot[c8] coordinates {(-6,.503)(-5.7,.505)(-5.4,.503)(-5.1,.505)(-4.8,.504)(-4.5,.502)(-4.2,.503)(-4.0,.499)(-3.8,.49)(-3.6,.466)(-3.4,.433)(-3.2,.407)(-3.0,.381)(-2.8,.355)(-2.6,.33)(-2.4,.31)(-2.2,.315)(-2.0,.33)(-1.9,.35)(-1.88,.9)};
\addplot[c9] coordinates {(-6,.498)(-5.7,.50)(-5.4,.499)(-5.1,.502)(-4.8,.50)(-4.5,.501)(-4.2,.50)(-4.0,.496)(-3.8,.485)(-3.6,.46)(-3.4,.426)(-3.2,.40)(-3.0,.374)(-2.8,.348)(-2.6,.323)(-2.45,.305)(-2.3,.31)(-2.2,.33)(-2.18,.9)};
\addplot[c3] coordinates {(-6,.506)(-5.7,.504)(-5.4,.506)(-5.1,.503)(-4.8,.505)(-4.5,.503)(-4.2,.503)(-4.0,.50)(-3.8,.492)(-3.6,.469)(-3.4,.437)(-3.2,.411)(-3.0,.385)(-2.8,.359)(-2.6,.334)(-2.4,.314)(-2.2,.32)(-2.1,.322)(-2.08,.9)};
\addplot[c0] coordinates {(-6,.50)(-5.7,.502)(-5.4,.501)(-5.1,.503)(-4.8,.502)(-4.5,.503)(-4.2,.502)(-4.0,.498)(-3.8,.489)(-3.6,.465)(-3.4,.432)(-3.2,.406)(-3.0,.38)(-2.8,.354)(-2.6,.329)(-2.4,.31)(-2.1,.32)(-1.9,.37)(-1.78,.424)(-1.68,.424)(-1.66,.9)};
\addplot[c1] coordinates {(-6,.507)(-5.7,.505)(-5.4,.504)(-5.1,.505)(-4.8,.503)(-4.5,.504)(-4.2,.503)(-4.0,.50)(-3.8,.491)(-3.6,.468)(-3.4,.435)(-3.2,.409)(-3.0,.383)(-2.8,.357)(-2.6,.332)(-2.4,.315)(-2.0,.33)(-1.8,.385)(-1.7,.39)(-1.68,.9)};
\addplot[c5] coordinates {(-6,.503)(-5.7,.505)(-5.4,.504)(-5.1,.502)(-4.8,.504)(-4.5,.503)(-4.2,.503)(-4.0,.50)(-3.8,.493)(-3.6,.47)(-3.4,.438)(-3.2,.412)(-3.0,.386)(-2.8,.36)(-2.6,.335)(-2.45,.315)(-2.3,.32)(-2.28,.9)};
\addplot[c6] coordinates {(-6,.505)(-5.7,.503)(-5.4,.506)(-5.1,.503)(-4.8,.504)(-4.5,.502)(-4.2,.503)(-4.0,.499)(-3.8,.49)(-3.6,.466)(-3.4,.433)(-3.2,.407)(-3.0,.381)(-2.8,.355)(-2.6,.33)(-2.4,.31)(-2.2,.315)(-2.15,.9)};
\addplot[rm] coordinates {(-3.7,.475)(-3.66,.463)(-3.62,.47)(-3.68,.455)(-3.6,.45)(-3.65,.445)(-3.7,.46)(-3.63,.48)(-3.58,.458)(-3.67,.468)(-3.64,.452)(-3.66,.456)(-3.62,.46)(-3.68,.472)(-3.64,.475)(-3.6,.462)(-3.66,.45)(-3.63,.466)};
\end{axis}
% ---------------- Row 2, Col 3 ----------------
\begin{axis}[panel, at={(7.488in,3.072in)}, title={Depth=4, Width=1024}]
\addplot[c0] coordinates {(-6,.51)(-5.7,.507)(-5.4,.506)(-5.1,.504)(-4.8,.505)(-4.5,.503)(-4.3,.497)(-4.1,.485)(-3.95,.47)(-3.8,.45)(-3.6,.42)(-3.4,.39)(-3.2,.36)(-3.0,.332)(-2.9,.315)(-2.8,.30)(-2.6,.30)(-2.3,.31)(-2.1,.32)(-1.85,.355)(-1.78,.36)(-1.76,.9)};
\addplot[c1] coordinates {(-6,.505)(-5.7,.503)(-5.4,.506)(-5.1,.503)(-4.8,.504)(-4.5,.502)(-4.3,.496)(-4.1,.484)(-3.95,.469)(-3.8,.449)(-3.6,.419)(-3.4,.389)(-3.2,.359)(-3.0,.331)(-2.9,.314)(-2.8,.298)(-2.6,.30)(-2.4,.31)(-2.2,.33)(-2.15,.45)(-2.0,.46)(-1.98,.9)};
\addplot[c2] coordinates {(-6,.515)(-5.7,.51)(-5.4,.507)(-5.1,.504)(-4.8,.504)(-4.5,.503)(-4.3,.498)(-4.1,.487)(-3.95,.472)(-3.8,.452)(-3.6,.422)(-3.4,.392)(-3.2,.362)(-3.0,.334)(-2.9,.317)(-2.8,.302)(-2.65,.31)(-2.62,.9)};
\addplot[c3] coordinates {(-6,.497)(-5.7,.499)(-5.4,.498)(-5.1,.50)(-4.8,.499)(-4.5,.50)(-4.3,.494)(-4.1,.482)(-3.95,.466)(-3.8,.446)(-3.6,.416)(-3.4,.386)(-3.2,.356)(-3.0,.328)(-2.85,.30)(-2.7,.29)(-2.6,.30)(-2.58,.9)};
\addplot[c4] coordinates {(-6,.508)(-5.7,.506)(-5.4,.505)(-5.1,.504)(-4.8,.503)(-4.5,.504)(-4.3,.498)(-4.1,.486)(-3.95,.471)(-3.8,.451)(-3.6,.421)(-3.4,.391)(-3.2,.361)(-3.0,.333)(-2.9,.316)(-2.8,.301)(-2.55,.30)(-2.52,.9)};
\addplot[c5] coordinates {(-6,.503)(-5.7,.505)(-5.4,.504)(-5.1,.503)(-4.8,.505)(-4.5,.503)(-4.3,.499)(-4.1,.488)(-3.95,.474)(-3.8,.454)(-3.6,.425)(-3.4,.395)(-3.2,.365)(-3.0,.337)(-2.9,.32)(-2.8,.306)(-2.6,.31)(-2.4,.32)(-2.35,.44)(-2.3,.45)(-2.28,.9)};
\addplot[c6] coordinates {(-6,.50)(-5.7,.502)(-5.4,.501)(-5.1,.503)(-4.8,.502)(-4.5,.503)(-4.3,.497)(-4.1,.485)(-3.95,.47)(-3.8,.45)(-3.6,.42)(-3.4,.39)(-3.2,.36)(-3.0,.332)(-2.9,.315)(-2.8,.30)(-2.66,.30)(-2.64,.9)};
\addplot[c7] coordinates {(-6,.512)(-5.7,.508)(-5.4,.506)(-5.1,.504)(-4.8,.504)(-4.5,.503)(-4.3,.497)(-4.1,.485)(-3.95,.47)(-3.8,.449)(-3.6,.419)(-3.4,.389)(-3.2,.359)(-3.0,.331)(-2.9,.314)(-2.8,.298)(-2.5,.305)(-2.3,.33)(-2.2,.45)(-2.1,.48)(-2.05,.9)};
\addplot[c8] coordinates {(-6,.505)(-5.7,.503)(-5.4,.505)(-5.1,.502)(-4.8,.504)(-4.5,.502)(-4.3,.496)(-4.1,.485)(-3.95,.47)(-3.8,.45)(-3.6,.42)(-3.4,.39)(-3.2,.36)(-3.0,.332)(-2.9,.315)(-2.8,.30)(-2.5,.31)(-2.2,.32)(-2.15,.9)};
\addplot[c9] coordinates {(-6,.50)(-5.7,.501)(-5.4,.50)(-5.1,.502)(-4.8,.501)(-4.5,.502)(-4.3,.495)(-4.1,.482)(-3.95,.466)(-3.8,.445)(-3.6,.414)(-3.4,.383)(-3.2,.353)(-3.0,.325)(-2.85,.297)(-2.6,.284)(-2.5,.29)(-2.45,.9)};
\addplot[c0] coordinates {(-6,.52)(-5.7,.513)(-5.4,.508)(-5.1,.505)(-4.8,.504)(-4.5,.503)(-4.3,.498)(-4.1,.486)(-3.95,.471)(-3.8,.451)(-3.6,.421)(-3.4,.391)(-3.2,.361)(-3.0,.333)(-2.9,.316)(-2.8,.301)(-2.45,.30)(-2.43,.9)};
\addplot[c3] coordinates {(-6,.505)(-5.7,.504)(-5.4,.503)(-5.1,.504)(-4.8,.502)(-4.5,.503)(-4.3,.497)(-4.1,.486)(-3.95,.471)(-3.8,.451)(-3.6,.421)(-3.4,.391)(-3.2,.361)(-3.0,.333)(-2.9,.316)(-2.8,.30)(-2.55,.31)(-2.3,.33)(-2.25,.9)};
\addplot[c8] coordinates {(-6,.503)(-5.7,.505)(-5.4,.503)(-5.1,.504)(-4.8,.503)(-4.5,.504)(-4.3,.498)(-4.1,.487)(-3.95,.472)(-3.8,.452)(-3.6,.423)(-3.4,.393)(-3.2,.363)(-3.0,.335)(-2.9,.318)(-2.8,.303)(-2.4,.31)(-2.3,.34)(-2.25,.55)(-2.2,.9)};
\addplot[c1] coordinates {(-6,.508)(-5.7,.505)(-5.4,.506)(-5.1,.503)(-4.8,.505)(-4.5,.503)(-4.3,.497)(-4.1,.486)(-3.95,.47)(-3.8,.45)(-3.6,.42)(-3.4,.39)(-3.2,.36)(-3.0,.332)(-2.9,.315)(-2.8,.30)(-2.4,.31)(-2.0,.33)(-1.9,.34)(-1.87,.9)};
\addplot[rm] coordinates {(-3.98,.475)(-3.95,.465)(-3.93,.48)(-3.96,.455)(-3.9,.47)(-4.0,.488)(-3.92,.46)(-3.97,.47)(-3.7,.42)(-3.6,.413)(-3.55,.41)(-3.95,.475)(-3.93,.465)(-3.97,.462)(-3.94,.485)(-3.92,.472)(-3.65,.415)};
\end{axis}
% ---------------- Row 3, Col 1 ----------------
\begin{axis}[panel, xl, yl, at={(0.6532in,0.5708in)}, title={Depth=16, Width=256}]
\addplot[c0] coordinates {(-6,.518)(-5.7,.511)(-5.4,.507)(-5.1,.504)(-4.8,.503)(-4.5,.503)(-4.2,.501)(-4.0,.499)(-3.8,.496)(-3.6,.491)(-3.4,.484)(-3.2,.474)(-3.0,.456)(-2.8,.439)(-2.6,.422)(-2.4,.406)(-2.2,.392)(-2.0,.38)(-1.9,.374)(-1.88,.9)};
\addplot[c1] coordinates {(-6,.50)(-5.7,.498)(-5.4,.50)(-5.1,.497)(-4.8,.495)(-4.5,.49)(-4.2,.488)(-4.0,.486)(-3.8,.485)(-3.6,.483)(-3.4,.478)(-3.2,.468)(-3.0,.45)(-2.8,.433)(-2.6,.416)(-2.4,.40)(-2.2,.387)(-2.1,.38)(-2.08,.9)};
\addplot[c2] coordinates {(-6,.51)(-5.7,.507)(-5.4,.504)(-5.1,.503)(-4.8,.502)(-4.5,.502)(-4.2,.50)(-4.0,.497)(-3.8,.493)(-3.6,.486)(-3.4,.478)(-3.2,.468)(-3.0,.45)(-2.8,.433)(-2.6,.416)(-2.4,.40)(-2.2,.386)(-2.0,.374)(-1.8,.363)(-1.6,.353)(-1.5,.348)(-1.48,.9)};
\addplot[c3] coordinates {(-6,.505)(-5.7,.504)(-5.4,.502)(-5.1,.503)(-4.8,.501)(-4.5,.50)(-4.2,.498)(-4.0,.496)(-3.8,.491)(-3.6,.484)(-3.4,.476)(-3.2,.466)(-3.0,.448)(-2.8,.431)(-2.6,.414)(-2.4,.398)(-2.2,.384)(-2.0,.372)(-1.8,.361)(-1.6,.351)(-1.4,.341)(-1.3,.337)(-1.28,.9)};
\addplot[c4] coordinates {(-6,.508)(-5.7,.505)(-5.4,.504)(-5.1,.502)(-4.8,.503)(-4.5,.501)(-4.2,.50)(-4.0,.498)(-3.8,.494)(-3.6,.488)(-3.4,.48)(-3.2,.47)(-3.0,.452)(-2.8,.435)(-2.6,.418)(-2.4,.402)(-2.2,.388)(-2.0,.376)(-1.8,.365)(-1.6,.355)(-1.4,.345)(-1.22,.336)(-1.2,.9)};
\addplot[c5] coordinates {(-6,.50)(-5.7,.502)(-5.4,.501)(-5.1,.503)(-4.8,.502)(-4.5,.501)(-4.2,.50)(-4.0,.499)(-3.8,.495)(-3.6,.49)(-3.4,.482)(-3.2,.472)(-3.0,.454)(-2.8,.437)(-2.6,.42)(-2.4,.404)(-2.2,.39)(-2.0,.378)(-1.8,.367)(-1.6,.357)(-1.45,.35)(-1.43,.9)};
\addplot[c6] coordinates {(-6,.498)(-5.7,.50)(-5.4,.502)(-5.1,.501)(-4.8,.503)(-4.5,.502)(-4.2,.50)(-4.0,.498)(-3.8,.494)(-3.6,.488)(-3.4,.48)(-3.2,.47)(-3.0,.452)(-2.8,.435)(-2.6,.418)(-2.4,.402)(-2.2,.388)(-2.0,.376)(-1.95,.372)(-1.93,.405)(-1.85,.41)(-1.83,.9)};
\addplot[c7] coordinates {(-6,.512)(-5.7,.508)(-5.4,.505)(-5.1,.504)(-4.8,.502)(-4.5,.502)(-4.2,.501)(-4.0,.499)(-3.8,.496)(-3.6,.49)(-3.4,.483)(-3.2,.473)(-3.0,.455)(-2.8,.438)(-2.6,.421)(-2.4,.405)(-2.2,.391)(-2.0,.379)(-1.8,.368)(-1.6,.358)(-1.58,.9)};
\addplot[c8] coordinates {(-6,.503)(-5.7,.501)(-5.4,.504)(-5.1,.502)(-4.8,.503)(-4.5,.50)(-4.2,.50)(-4.0,.497)(-3.8,.493)(-3.6,.487)(-3.4,.479)(-3.2,.469)(-3.0,.451)(-2.8,.434)(-2.6,.417)(-2.4,.401)(-2.2,.387)(-2.0,.375)(-1.8,.364)(-1.7,.359)(-1.68,.9)};
\addplot[c9] coordinates {(-6,.50)(-5.7,.502)(-5.4,.50)(-5.1,.502)(-4.8,.50)(-4.5,.501)(-4.2,.499)(-4.0,.497)(-3.8,.492)(-3.6,.485)(-3.4,.477)(-3.2,.467)(-3.0,.449)(-2.8,.432)(-2.6,.415)(-2.4,.399)(-2.2,.385)(-2.0,.373)(-1.8,.362)(-1.6,.352)(-1.4,.342)(-1.35,.34)(-1.33,.9)};
\addplot[c0] coordinates {(-6,.514)(-5.7,.509)(-5.4,.506)(-5.1,.503)(-4.8,.504)(-4.5,.502)(-4.2,.501)(-4.0,.499)(-3.8,.495)(-3.6,.49)(-3.4,.482)(-3.2,.472)(-3.0,.454)(-2.8,.437)(-2.6,.42)(-2.4,.404)(-2.2,.39)(-2.0,.378)(-1.8,.367)(-1.55,.355)(-1.53,.9)};
\addplot[c3] coordinates {(-6,.497)(-5.7,.499)(-5.4,.50)(-5.1,.502)(-4.8,.501)(-4.5,.50)(-4.2,.498)(-4.0,.495)(-3.8,.49)(-3.6,.483)(-3.4,.475)(-3.2,.465)(-3.0,.447)(-2.8,.43)(-2.6,.413)(-2.4,.397)(-2.2,.383)(-2.0,.371)(-1.75,.358)(-1.73,.9)};
\addplot[c2] coordinates {(-6,.505)(-5.7,.503)(-5.4,.505)(-5.1,.502)(-4.8,.503)(-4.5,.502)(-4.2,.50)(-4.0,.498)(-3.8,.495)(-3.6,.489)(-3.4,.481)(-3.2,.471)(-3.0,.453)(-2.8,.436)(-2.6,.419)(-2.4,.403)(-2.2,.389)(-2.0,.377)(-1.8,.366)(-1.6,.356)(-1.4,.346)(-1.38,.9)};
\addplot[c1] coordinates {(-6,.51)(-5.7,.506)(-5.4,.505)(-5.1,.503)(-4.8,.502)(-4.5,.50)(-4.2,.499)(-4.0,.497)(-3.8,.493)(-3.6,.486)(-3.4,.478)(-3.2,.468)(-3.0,.45)(-2.8,.433)(-2.6,.416)(-2.4,.40)(-2.2,.386)(-2.0,.374)(-1.8,.363)(-1.65,.356)(-1.63,.9)};
\addplot[c4] coordinates {(-6,.502)(-5.7,.504)(-5.4,.502)(-5.1,.503)(-4.8,.501)(-4.5,.502)(-4.2,.50)(-4.0,.497)(-3.8,.493)(-3.6,.487)(-3.4,.479)(-3.2,.469)(-3.0,.451)(-2.8,.434)(-2.6,.417)(-2.4,.401)(-2.2,.387)(-2.0,.375)(-1.8,.364)(-1.6,.354)(-1.4,.344)(-1.25,.337)(-1.23,.9)};
\addplot[rm] coordinates {(-3.35,.485)(-3.3,.48)(-3.25,.476)(-3.22,.472)(-3.28,.47)(-3.2,.466)(-3.15,.462)(-3.1,.458)(-3.05,.455)(-3.25,.482)(-3.18,.47)(-3.28,.478)(-3.23,.474)(-3.2,.478)(-3.26,.466)(-3.17,.462)};
\end{axis}
% ---------------- Row 3, Col 2 ----------------
\begin{axis}[panel, xl, at={(4.0732in,0.5708in)}, title={Depth=16, Width=512}]
\addplot[c0] coordinates {(-6,.51)(-5.7,.507)(-5.4,.505)(-5.1,.503)(-4.8,.503)(-4.5,.502)(-4.2,.50)(-4.0,.498)(-3.8,.494)(-3.6,.486)(-3.4,.474)(-3.2,.461)(-3.0,.448)(-2.8,.436)(-2.6,.423)(-2.4,.409)(-2.2,.396)(-2.1,.388)(-2.06,.9)};
\addplot[c6] coordinates {(-6,.50)(-5.7,.502)(-5.4,.501)(-5.1,.503)(-4.8,.502)(-4.5,.501)(-4.2,.50)(-4.0,.497)(-3.8,.492)(-3.6,.482)(-3.4,.466)(-3.2,.448)(-3.0,.43)(-2.8,.413)(-2.6,.398)(-2.4,.385)(-2.22,.375)(-2.2,.9)};
\addplot[c2] coordinates {(-6,.515)(-5.7,.51)(-5.4,.506)(-5.1,.504)(-4.8,.503)(-4.5,.502)(-4.2,.501)(-4.0,.499)(-3.8,.495)(-3.6,.486)(-3.4,.47)(-3.2,.452)(-3.0,.434)(-2.8,.417)(-2.6,.402)(-2.4,.389)(-2.2,.378)(-2.1,.372)(-2.08,.9)};
\addplot[c1] coordinates {(-6,.505)(-5.7,.503)(-5.4,.504)(-5.1,.502)(-4.8,.501)(-4.5,.50)(-4.2,.499)(-4.0,.495)(-3.8,.489)(-3.6,.478)(-3.4,.462)(-3.2,.444)(-3.0,.426)(-2.8,.409)(-2.6,.394)(-2.4,.381)(-2.2,.37)(-2.0,.36)(-1.8,.349)(-1.78,.9)};
\addplot[c3] coordinates {(-6,.50)(-5.7,.501)(-5.4,.503)(-5.1,.501)(-4.8,.502)(-4.5,.50)(-4.2,.499)(-4.0,.496)(-3.8,.49)(-3.6,.48)(-3.4,.464)(-3.2,.446)(-3.0,.428)(-2.8,.411)(-2.6,.396)(-2.4,.383)(-2.2,.372)(-2.0,.362)(-1.8,.351)(-1.6,.341)(-1.58,.9)};
\addplot[c4] coordinates {(-6,.508)(-5.7,.505)(-5.4,.504)(-5.1,.502)(-4.8,.503)(-4.5,.501)(-4.2,.50)(-4.0,.497)(-3.8,.492)(-3.6,.482)(-3.4,.466)(-3.2,.448)(-3.0,.43)(-2.8,.413)(-2.6,.398)(-2.4,.385)(-2.2,.374)(-2.0,.364)(-1.8,.353)(-1.7,.348)(-1.68,.9)};
\addplot[c5] coordinates {(-6,.503)(-5.7,.504)(-5.4,.502)(-5.1,.503)(-4.8,.502)(-4.5,.502)(-4.2,.501)(-4.0,.498)(-3.8,.494)(-3.6,.484)(-3.4,.468)(-3.2,.45)(-3.0,.432)(-2.8,.415)(-2.6,.40)(-2.4,.387)(-2.2,.376)(-2.0,.366)(-1.9,.361)(-1.88,.9)};
\addplot[c7] coordinates {(-6,.512)(-5.7,.508)(-5.4,.505)(-5.1,.503)(-4.8,.503)(-4.5,.502)(-4.2,.50)(-4.0,.498)(-3.8,.493)(-3.6,.483)(-3.4,.467)(-3.2,.449)(-3.0,.431)(-2.8,.414)(-2.6,.399)(-2.4,.386)(-2.2,.375)(-2.0,.365)(-1.8,.354)(-1.75,.351)(-1.73,.9)};
\addplot[c8] coordinates {(-6,.506)(-5.7,.504)(-5.4,.505)(-5.1,.503)(-4.8,.502)(-4.5,.502)(-4.2,.50)(-4.0,.498)(-3.8,.494)(-3.6,.485)(-3.4,.469)(-3.2,.451)(-3.0,.433)(-2.8,.416)(-2.6,.401)(-2.4,.388)(-2.2,.377)(-2.0,.367)(-1.98,.9)};
\addplot[c9] coordinates {(-6,.498)(-5.7,.50)(-5.4,.499)(-5.1,.501)(-4.8,.50)(-4.5,.50)(-4.2,.498)(-4.0,.495)(-3.8,.488)(-3.6,.478)(-3.4,.462)(-3.2,.444)(-3.0,.426)(-2.8,.409)(-2.6,.394)(-2.4,.381)(-2.2,.37)(-2.0,.36)(-1.8,.349)(-1.6,.339)(-1.45,.333)(-1.38,.33)(-1.36,.9)};
\addplot[c0] coordinates {(-6,.52)(-5.7,.513)(-5.4,.508)(-5.1,.505)(-4.8,.503)(-4.5,.502)(-4.2,.50)(-4.0,.498)(-3.8,.493)(-3.6,.483)(-3.4,.467)(-3.2,.449)(-3.0,.431)(-2.8,.414)(-2.6,.399)(-2.4,.386)(-2.2,.375)(-2.0,.365)(-1.8,.354)(-1.65,.346)(-1.63,.9)};
\addplot[c3] coordinates {(-6,.505)(-5.7,.503)(-5.4,.505)(-5.1,.502)(-4.8,.503)(-4.5,.501)(-4.2,.50)(-4.0,.496)(-3.8,.491)(-3.6,.481)(-3.4,.465)(-3.2,.447)(-3.0,.429)(-2.8,.412)(-2.6,.397)(-2.4,.384)(-2.2,.373)(-2.0,.363)(-1.85,.355)(-1.83,.9)};
\addplot[c2] coordinates {(-6,.50)(-5.7,.502)(-5.4,.50)(-5.1,.502)(-4.8,.501)(-4.5,.50)(-4.2,.499)(-4.0,.496)(-3.8,.489)(-3.6,.479)(-3.4,.463)(-3.2,.445)(-3.0,.427)(-2.8,.41)(-2.6,.395)(-2.4,.382)(-2.2,.371)(-2.0,.361)(-1.8,.35)(-1.6,.34)(-1.5,.336)(-1.48,.9)};
\addplot[c5] coordinates {(-6,.51)(-5.7,.507)(-5.4,.504)(-5.1,.503)(-4.8,.502)(-4.5,.502)(-4.2,.50)(-4.0,.498)(-3.8,.494)(-3.6,.484)(-3.4,.468)(-3.2,.45)(-3.0,.432)(-2.8,.415)(-2.6,.40)(-2.4,.387)(-2.2,.376)(-2.0,.366)(-1.8,.355)(-1.55,.343)(-1.53,.9)};
\addplot[rm] coordinates {(-3.6,.488)(-3.55,.482)(-3.5,.478)(-3.47,.472)(-3.52,.468)(-3.45,.465)(-3.42,.462)(-3.5,.485)(-3.58,.475)(-3.48,.46)(-3.53,.476)(-3.5,.47)(-3.55,.486)(-3.47,.466)(-3.52,.46)};
\end{axis}
% ---------------- Row 3, Col 3 ----------------
\begin{axis}[panel, xl, at={(7.488in,0.5708in)}, title={Depth=16, Width=1024}]
\addplot[c0] coordinates {(-6,.515)(-5.7,.51)(-5.4,.507)(-5.1,.504)(-4.8,.503)(-4.5,.502)(-4.2,.501)(-4.0,.498)(-3.85,.495)(-3.74,.512)(-3.49,.493)(-3.15,.472)(-2.94,.46)(-2.72,.443)(-2.47,.421)(-2.21,.397)(-2.0,.38)(-1.88,.37)(-1.85,.9)};
\addplot[c5] coordinates {(-6,.505)(-5.7,.503)(-5.4,.504)(-5.1,.502)(-4.8,.503)(-4.5,.502)(-4.2,.501)(-4.0,.498)(-3.8,.485)(-3.57,.468)(-3.32,.464)(-3.06,.449)(-2.81,.427)(-2.51,.405)(-2.3,.394)(-2.13,.385)(-1.96,.39)(-1.93,.9)};
\addplot[c6] coordinates {(-6,.50)(-5.7,.502)(-5.4,.501)(-5.1,.503)(-4.8,.502)(-4.5,.501)(-4.2,.50)(-4.0,.497)(-3.9,.489)(-3.8,.481)(-3.6,.466)(-3.4,.449)(-3.2,.431)(-3.0,.416)(-2.8,.399)(-2.6,.385)(-2.45,.378)(-2.43,.9)};
\addplot[c1] coordinates {(-6,.505)(-5.7,.503)(-5.4,.504)(-5.1,.502)(-4.8,.503)(-4.5,.501)(-4.2,.50)(-4.0,.497)(-3.9,.488)(-3.8,.48)(-3.6,.465)(-3.4,.448)(-3.2,.43)(-3.0,.415)(-2.8,.398)(-2.6,.384)(-2.4,.371)(-2.29,.366)(-2.27,.9)};
\addplot[c0] coordinates {(-6,.52)(-5.7,.513)(-5.4,.508)(-5.1,.505)(-4.8,.503)(-4.5,.502)(-4.2,.501)(-4.0,.499)(-3.9,.492)(-3.8,.485)(-3.6,.47)(-3.4,.453)(-3.2,.435)(-3.0,.42)(-2.8,.403)(-2.6,.389)(-2.4,.376)(-2.19,.362)(-2.17,.9)};
\addplot[c2] coordinates {(-6,.51)(-5.7,.507)(-5.4,.505)(-5.1,.503)(-4.8,.502)(-4.5,.502)(-4.2,.50)(-4.0,.497)(-3.9,.489)(-3.8,.481)(-3.6,.466)(-3.4,.449)(-3.2,.431)(-3.0,.416)(-2.8,.399)(-2.6,.385)(-2.4,.372)(-2.2,.36)(-2.17,.46)(-2.14,.47)(-2.12,.9)};
\addplot[c3] coordinates {(-6,.497)(-5.7,.499)(-5.4,.50)(-5.1,.50)(-4.8,.501)(-4.5,.50)(-4.2,.499)(-4.0,.495)(-3.9,.486)(-3.8,.477)(-3.6,.462)(-3.4,.445)(-3.2,.427)(-3.0,.412)(-2.8,.395)(-2.6,.381)(-2.4,.368)(-2.2,.355)(-2.0,.346)(-1.95,.342)(-1.93,.9)};
\addplot[c4] coordinates {(-6,.508)(-5.7,.505)(-5.4,.504)(-5.1,.502)(-4.8,.503)(-4.5,.502)(-4.2,.501)(-4.0,.498)(-3.9,.49)(-3.8,.482)(-3.6,.467)(-3.4,.45)(-3.2,.432)(-3.0,.417)(-2.8,.40)(-2.6,.386)(-2.4,.373)(-2.2,.36)(-2.0,.35)(-1.98,.9)};
\addplot[c7] coordinates {(-6,.512)(-5.7,.508)(-5.4,.505)(-5.1,.503)(-4.8,.503)(-4.5,.502)(-4.2,.501)(-4.0,.498)(-3.9,.491)(-3.8,.484)(-3.6,.469)(-3.4,.452)(-3.2,.434)(-3.0,.419)(-2.8,.402)(-2.6,.388)(-2.4,.375)(-2.2,.362)(-2.05,.354)(-2.03,.9)};
\addplot[c8] coordinates {(-6,.503)(-5.7,.501)(-5.4,.503)(-5.1,.502)(-4.8,.503)(-4.5,.50)(-4.2,.50)(-4.0,.497)(-3.9,.489)(-3.8,.481)(-3.6,.466)(-3.4,.449)(-3.2,.431)(-3.0,.416)(-2.8,.399)(-2.6,.385)(-2.4,.372)(-2.2,.359)(-2.0,.349)(-1.98,.9)};
\addplot[c9] coordinates {(-6,.498)(-5.7,.50)(-5.4,.499)(-5.1,.501)(-4.8,.50)(-4.5,.501)(-4.2,.499)(-4.0,.495)(-3.9,.486)(-3.8,.478)(-3.6,.463)(-3.4,.446)(-3.2,.428)(-3.0,.413)(-2.8,.396)(-2.6,.382)(-2.4,.369)(-2.2,.356)(-2.0,.345)(-1.9,.338)(-1.87,.336)(-1.86,.358)(-1.84,.37)(-1.82,.9)};
\addplot[c3] coordinates {(-6,.50)(-5.7,.502)(-5.4,.503)(-5.1,.501)(-4.8,.502)(-4.5,.501)(-4.2,.50)(-4.0,.497)(-3.9,.488)(-3.8,.479)(-3.6,.464)(-3.4,.447)(-3.2,.429)(-3.0,.414)(-2.8,.397)(-2.6,.383)(-2.4,.37)(-2.2,.357)(-2.0,.347)(-1.9,.341)(-1.88,.9)};
\addplot[c5] coordinates {(-6,.506)(-5.7,.504)(-5.4,.505)(-5.1,.503)(-4.8,.502)(-4.5,.503)(-4.2,.501)(-4.0,.498)(-3.9,.49)(-3.8,.483)(-3.6,.468)(-3.4,.451)(-3.2,.433)(-3.0,.418)(-2.8,.401)(-2.6,.387)(-2.4,.374)(-2.2,.361)(-2.0,.351)(-1.95,.348)(-1.93,.9)};
\addplot[c4] coordinates {(-6,.502)(-5.7,.504)(-5.4,.502)(-5.1,.503)(-4.8,.501)(-4.5,.502)(-4.2,.50)(-4.0,.497)(-3.9,.489)(-3.8,.48)(-3.6,.465)(-3.4,.448)(-3.2,.43)(-3.0,.415)(-2.8,.398)(-2.6,.384)(-2.4,.371)(-2.2,.358)(-2.02,.35)(-2.0,.9)};
\addplot[rm] coordinates {(-3.95,.49)(-3.9,.485)(-3.85,.478)(-3.88,.47)(-3.83,.465)(-3.8,.46)(-3.78,.472)(-3.92,.48)(-3.75,.455)(-3.72,.465)(-3.77,.512)(-3.86,.495)(-3.87,.482)(-3.84,.472)(-3.82,.485)(-3.8,.468)(-3.86,.462)(-3.78,.458)(-3.9,.475)(-3.83,.455)};
\end{axis}
\node[font=\fontsize{13}{15}\selectfont, anchor=base] at (5.7in,0.092in) {Learning Rate};
\node[font=\fontsize{13}{15}\selectfont, anchor=base, rotate=90] at (0.188in,4.148in) {Exp. Smoothed Loss};
\end{tikzpicture}
\end{document}
